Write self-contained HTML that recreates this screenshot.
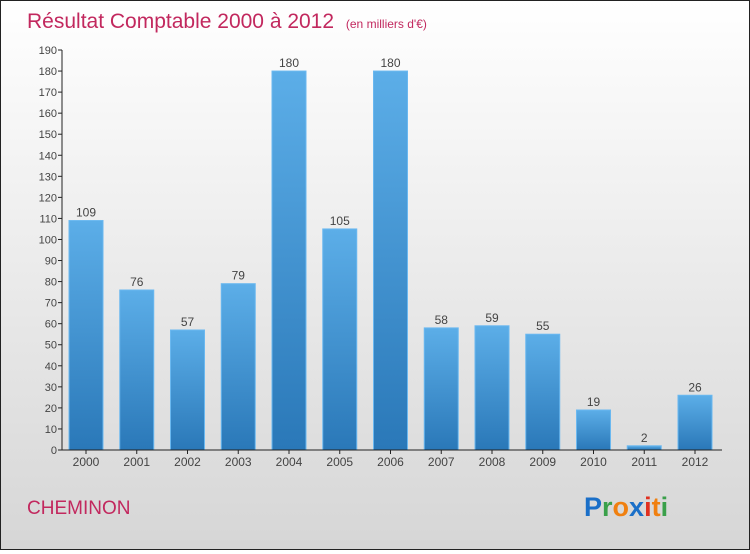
<!DOCTYPE html>
<html><head><meta charset="utf-8"><style>
body{margin:0;width:750px;height:550px;overflow:hidden;font-family:"Liberation Sans",sans-serif}
#wrap{position:relative;width:748px;height:548px;border:1px solid #222;background:linear-gradient(#ffffff,#d6d6d6)}
</style></head><body>
<div id="wrap">
<svg id="chart" width="748" height="548">
<defs><linearGradient id="bg" x1="0" y1="0" x2="0" y2="1"><stop offset="0" stop-color="#5caee8"/><stop offset="1" stop-color="#2a78b8"/></linearGradient></defs>
<text x="26" y="27" font-size="21" fill="#c2285e">Résultat Comptable 2000 à 2012 <tspan font-size="12" dx="6">(en milliers d'€)</tspan></text>
<text x="26" y="513" font-size="19" fill="#c2285e">CHEMINON</text>
<text x="583" y="515" font-size="27" font-weight="bold"><tspan fill="#1a6fc8">P</tspan><tspan fill="#3aa04a">r</tspan><tspan fill="#f08010">o</tspan><tspan fill="#1a6fc8">x</tspan><tspan fill="#e03020">i</tspan><tspan fill="#f08010">t</tspan><tspan fill="#3aa04a">i</tspan></text>
<g id="plot"></g>
</svg></div>
<script>
const categories=["2000","2001","2002","2003","2004","2005","2006","2007","2008","2009","2010","2011","2012"];
const values=[109,76,57,79,180,105,180,58,59,55,19,2,26];
const yTicks=[0,10,20,30,40,50,60,70,80,90,100,110,120,130,140,150,160,170,180,190];
const ns="http://www.w3.org/2000/svg";
const g=document.getElementById('plot');
const y0=449,yTop=49,yMax=190;
const y=v=>y0-(v/yMax)*(y0-yTop);
const x=i=>85+i*50.75;
function mk(t,a){const e=document.createElementNS(ns,t);for(const k in a)e.setAttribute(k,a[k]);g.appendChild(e);return e;}
yTicks.forEach(t=>{
 const l=mk('line',{x1:57,x2:61,y1:y(t),y2:y(t),stroke:'#222'});
 
 
 const tx=mk('text',{x:56,y:y(t)+4,'text-anchor':'end','font-size':11,fill:'#444'});
 tx.textContent=t;
 
 
});
values.forEach((v,i)=>{
 const r=mk('rect',{x:x(i)-17,y:y(v),width:34,height:y0-y(v),fill:'url(#bg)',stroke:'#6ab8f0','stroke-width':1});
 
 
 const vl=mk('text',{x:x(i),y:y(v)-4,'text-anchor':'middle','font-size':12,fill:'#444'});
 vl.textContent=v;
 
 
 const tk=mk('line',{x1:x(i),x2:x(i),y1:y0,y2:y0+4,stroke:'#222'});
 
 
 const xl=mk('text',{x:x(i),y:y0+16,'text-anchor':'middle','font-size':12,fill:'#444'});
 xl.textContent=categories[i];
 
 
});
const ya=mk('line',{x1:61,x2:61,y1:yTop,y2:y0,stroke:'#222'});


const xa=mk('line',{x1:61,x2:721,y1:y0,y2:y0,stroke:'#222'});


</script>
</body></html>
